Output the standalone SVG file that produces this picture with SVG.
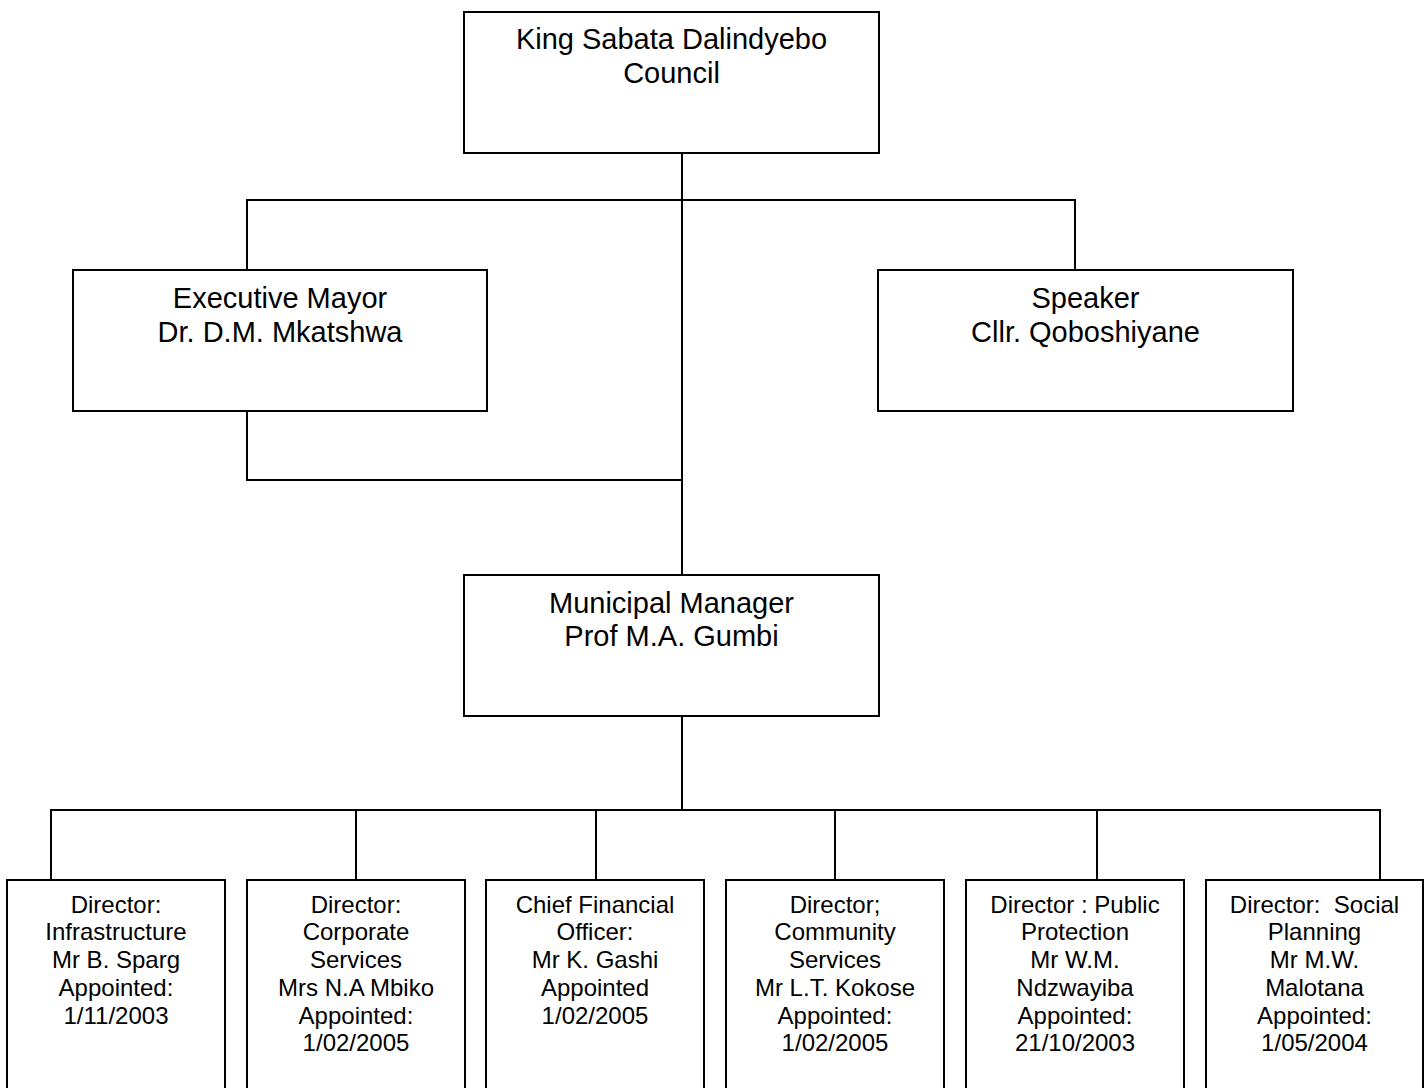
<svg xmlns="http://www.w3.org/2000/svg" width="1427" height="1088" viewBox="0 0 1427 1088">
<style>
.box{fill:#fff;stroke:#000;stroke-width:2}
.ln{fill:none;stroke:#000;stroke-width:2}
.t{font-family:"Liberation Sans",Arial,sans-serif;font-size:29px;fill:#000;text-anchor:middle;white-space:pre}
.s{font-family:"Liberation Sans",Arial,sans-serif;font-size:24px;fill:#000;text-anchor:middle;white-space:pre}
</style>
<rect width="1427" height="1088" fill="#fff"/>
<g id="connectors">
<path class="ln" d="M682 153V575M247 270V200H1075V270M247 411V480H682M682 716V810M51 880V810H1380V880M356 810V880M596 810V880M835 810V880M1097 810V880"/>
</g>
<g id="council">
<rect class="box" x="464" y="12" width="415" height="141"/>
<text class="t" x="671.5" y="49.3">King Sabata Dalindyebo</text>
<text class="t" x="671.5" y="82.7">Council</text>
</g>
<g id="mayor">
<rect class="box" x="73" y="270" width="414" height="141"/>
<text class="t" x="280" y="308.3">Executive Mayor</text>
<text class="t" x="280" y="341.7">Dr. D.M. Mkatshwa</text>
</g>
<g id="speaker">
<rect class="box" x="878" y="270" width="415" height="141"/>
<text class="t" x="1085.5" y="308.3">Speaker</text>
<text class="t" x="1085.5" y="341.7">Cllr. Qoboshiyane</text>
</g>
<g id="manager">
<rect class="box" x="464" y="575" width="415" height="141"/>
<text class="t" x="671.5" y="612.5">Municipal Manager</text>
<text class="t" x="671.5" y="646">Prof M.A. Gumbi</text>
</g>
<g id="dir-infrastructure">
<rect class="box" x="7" y="880" width="218" height="215"/>
<text class="s" x="116" y="912.7">Director:</text>
<text class="s" x="116" y="940.4">Infrastructure</text>
<text class="s" x="116" y="968.1">Mr B. Sparg</text>
<text class="s" x="116" y="995.8">Appointed:</text>
<text class="s" x="116" y="1023.5">1/11/2003</text>
</g>
<g id="dir-corporate">
<rect class="box" x="247" y="880" width="218" height="215"/>
<text class="s" x="356" y="912.7">Director:</text>
<text class="s" x="356" y="940.4">Corporate</text>
<text class="s" x="356" y="968.1">Services</text>
<text class="s" x="356" y="995.8">Mrs N.A Mbiko</text>
<text class="s" x="356" y="1023.5">Appointed:</text>
<text class="s" x="356" y="1051.2">1/02/2005</text>
</g>
<g id="cfo">
<rect class="box" x="486" y="880" width="218" height="215"/>
<text class="s" x="595" y="912.7">Chief Financial</text>
<text class="s" x="595" y="940.4">Officer:</text>
<text class="s" x="595" y="968.1">Mr K. Gashi</text>
<text class="s" x="595" y="995.8">Appointed</text>
<text class="s" x="595" y="1023.5">1/02/2005</text>
</g>
<g id="dir-community">
<rect class="box" x="726" y="880" width="218" height="215"/>
<text class="s" x="835" y="912.7">Director;</text>
<text class="s" x="835" y="940.4">Community</text>
<text class="s" x="835" y="968.1">Services</text>
<text class="s" x="835" y="995.8">Mr L.T. Kokose</text>
<text class="s" x="835" y="1023.5">Appointed:</text>
<text class="s" x="835" y="1051.2">1/02/2005</text>
</g>
<g id="dir-public-protection">
<rect class="box" x="966" y="880" width="218" height="215"/>
<text class="s" x="1075" y="912.7">Director : Public</text>
<text class="s" x="1075" y="940.4">Protection</text>
<text class="s" x="1075" y="968.1">Mr W.M.</text>
<text class="s" x="1075" y="995.8">Ndzwayiba</text>
<text class="s" x="1075" y="1023.5">Appointed:</text>
<text class="s" x="1075" y="1051.2">21/10/2003</text>
</g>
<g id="dir-social-planning">
<rect class="box" x="1206" y="880" width="217" height="215"/>
<text class="s" x="1314.5" y="912.7">Director:  Social</text>
<text class="s" x="1314.5" y="940.4">Planning</text>
<text class="s" x="1314.5" y="968.1">Mr M.W.</text>
<text class="s" x="1314.5" y="995.8">Malotana</text>
<text class="s" x="1314.5" y="1023.5">Appointed:</text>
<text class="s" x="1314.5" y="1051.2">1/05/2004</text>
</g>
</svg>
